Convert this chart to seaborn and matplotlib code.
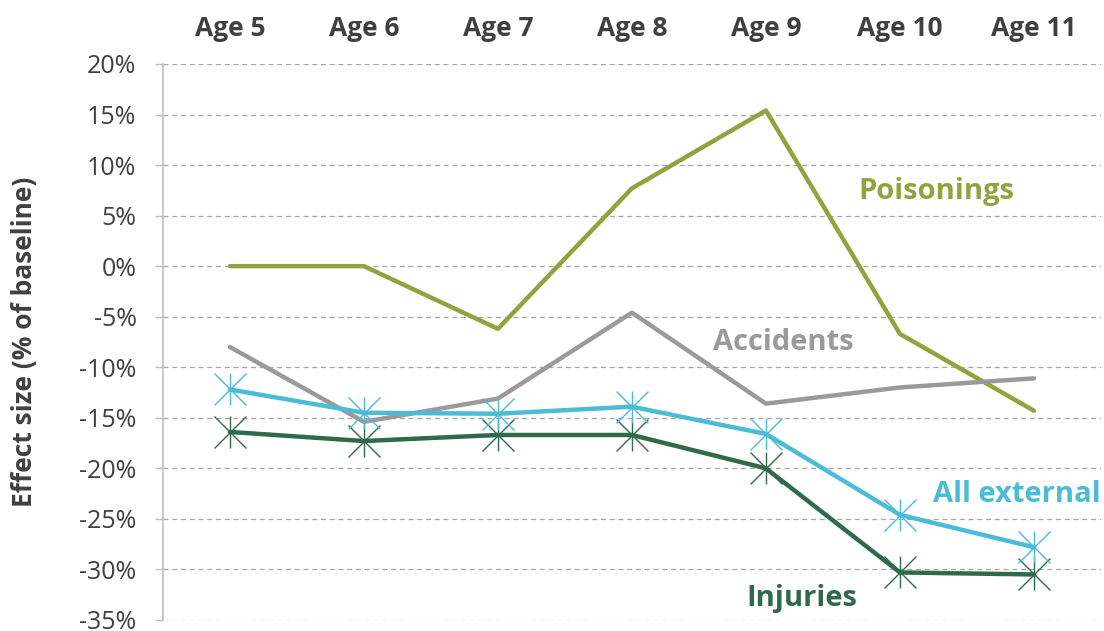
import seaborn as sns
import pandas as pd
import matplotlib.pyplot as plt
from matplotlib.path import Path

# values (% of baseline)
ages = ["Age 5", "Age 6", "Age 7", "Age 8", "Age 9", "Age 10", "Age 11"]
poisonings = [0.0, 0.0, -6.2, 7.7, 15.4, -6.7, -14.3]
accidents = [-8.0, -15.4, -13.1, -4.6, -13.6, -12.0, -11.1]
all_external = [-12.2, -14.5, -14.6, -13.9, -16.6, -24.6, -27.8]
injuries = [-16.4, -17.3, -16.7, -16.7, -20.0, -30.3, -30.5]

colours = {"Poisonings": "#8FA43E", "Accidents": "#9A9A9A",
           "All external": "#4BBBD6", "Injuries": "#2F6A4E"}

data = pd.DataFrame({"age": ages * 4,
                     "series": ["Poisonings"] * 7 + ["Accidents"] * 7 + ["All external"] * 7 + ["Injuries"] * 7,
                     "value": poisonings + accidents + all_external + injuries})

sns.set_theme(style="white")
plt.rcParams['font.family'] = ['Open Sans', 'DejaVu Sans']

# excel-style star marker: an X with a vertical bar
star = Path([(-1, -1), (1, 1), (-1, 1), (1, -1), (0, -1), (0, 1)],
            [Path.MOVETO, Path.LINETO, Path.MOVETO, Path.LINETO, Path.MOVETO, Path.LINETO])

fig = plt.figure(figsize=(11.04, 6.31), dpi=100)
ax = fig.add_axes([0.1476, 0.0175, 0.8496, 0.8811])

for name in ["Poisonings", "Accidents", "Injuries", "All external"]:
    sub = data[data["series"] == name]
    sns.lineplot(data=sub, x="age", y="value", color=colours[name], lw=3.2, ax=ax, sort=False)
    if name in ("All external", "Injuries"):
        ax.plot(sub["age"], sub["value"], ls="none", marker=star, markersize=23,
                markeredgewidth=1.0, markeredgecolor=colours[name], zorder=3)

ax.set_xlim(-0.5, 6.5)
ax.set_ylim(-35, 20)
ax.set_yticks(range(-35, 21, 5))
ax.set_yticklabels([f"{v}%" for v in range(-35, 21, 5)], fontsize=18, color="#404040")
ax.yaxis.grid(True, ls=(0, (4, 3)), color="#A6A6A6", lw=0.9)
ax.set_axisbelow(True)

ax.xaxis.tick_top()
ax.tick_params(axis="x", length=0, pad=16)
for lab in ax.get_xticklabels():
    lab.set_fontsize(19)
    lab.set_fontweight("bold")
    lab.set_color("#404040")
ax.tick_params(axis="y", left=True, length=6, width=1, color="#BFBFBF", pad=13)

ax.set_xlabel(None)
ax.set_ylabel("Effect size (% of baseline)", fontsize=19, fontweight="bold", color="#404040", labelpad=30)

for s in ["top", "right", "bottom"]:
    ax.spines[s].set_visible(False)
ax.spines["left"].set_color("#BFBFBF")
ax.spines["left"].set_linewidth(1.2)

# series labels
ax.text(5.27, 7.4, "Poisonings", color=colours["Poisonings"], fontsize=21, fontweight="bold", ha="center", va="center")
ax.text(4.13, -7.6, "Accidents", color=colours["Accidents"], fontsize=21, fontweight="bold", ha="center", va="center")
ax.text(5.87, -22.6, "All external", color=colours["All external"], fontsize=21, fontweight="bold", ha="center", va="center")
ax.text(4.27, -32.9, "Injuries", color=colours["Injuries"], fontsize=21, fontweight="bold", ha="center", va="center")

plt.savefig("out.png", dpi=100)
